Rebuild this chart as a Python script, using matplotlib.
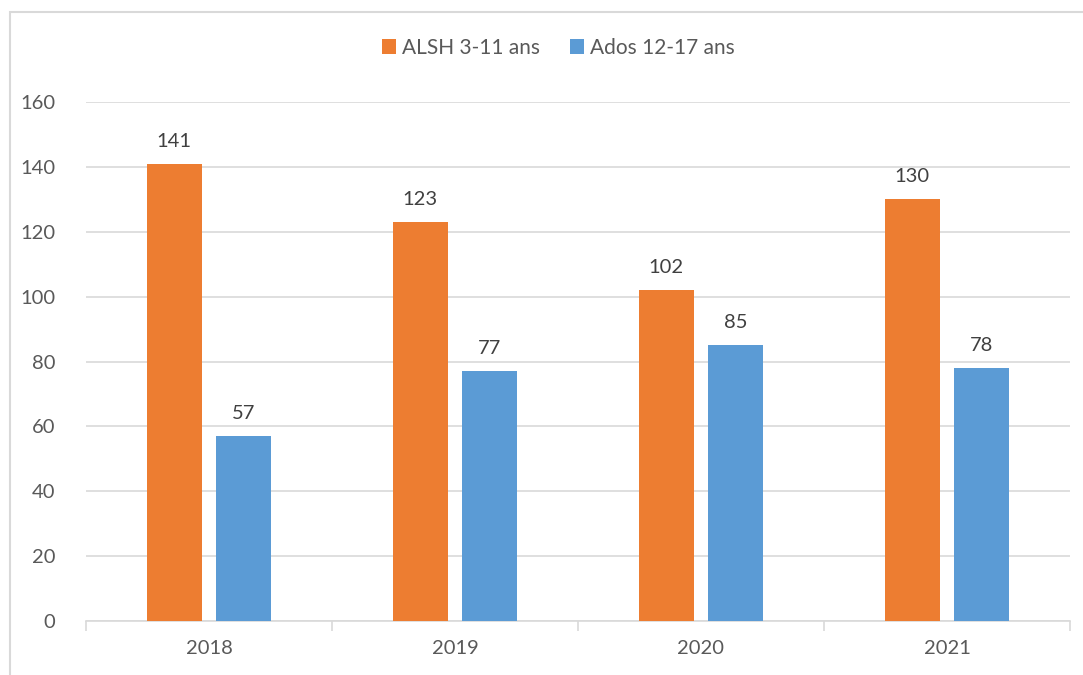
import numpy as np
import matplotlib.pyplot as plt
from matplotlib.patches import Rectangle

# Données
annees = ['2018', '2019', '2020', '2021']
alsh = [141, 123, 102, 130]
ados = [57, 77, 85, 78]
legende = ['ALSH 3-11 ans', 'Ados 12-17 ans']

orange = '#ED7D31'
bleu = '#5B9BD5'
gris_texte = '#595959'
gris_ligne = '#D9D9D9'

plt.rcParams['font.family'] = ['Lato', 'DejaVu Sans']

fig = plt.figure(figsize=(10.83, 6.75), dpi=100)
ax = fig.add_axes([86 / 1083, 1 - 621 / 675, (1070 - 86) / 1083, (621 - 102) / 675])

# Cadre du graphique (coupé à droite et en bas)
cadre = Rectangle((10 / 1083, -0.1), 1.2, 1 - 12 / 675 + 0.1, transform=fig.transFigure,
                  fill=False, edgecolor=gris_ligne, linewidth=1.5, clip_on=False)
fig.patches.append(cadre)

x = np.arange(len(annees))
largeur = 0.224
decal = 0.142

b1 = ax.bar(x - decal, alsh, largeur, color=orange, label=legende[0], zorder=3)
b2 = ax.bar(x + decal, ados, largeur, color=bleu, label=legende[1], zorder=3)

for barres in (b1, b2):
    for b in barres:
        h = b.get_height()
        ax.annotate(str(h), (b.get_x() + b.get_width() / 2, h), xytext=(0, 10),
                    textcoords='offset points', ha='center', va='bottom',
                    fontsize=14.5, color='#404040')

ax.set_xlim(-0.5, len(annees) - 0.5)
ax.set_ylim(0, 160)
ax.set_yticks(np.arange(0, 161, 20))
ax.set_xticks(x)
ax.set_xticklabels(annees)
ax.set_xticks(np.arange(-0.5, len(annees), 1), minor=True)

ax.grid(axis='y', color=gris_ligne, linewidth=1.2, zorder=0)
for s in ['top', 'right', 'left']:
    ax.spines[s].set_visible(False)
ax.spines['bottom'].set_color(gris_ligne)
ax.spines['bottom'].set_linewidth(1.2)

ax.tick_params(axis='y', length=0, pad=22, labelsize=14.5, labelcolor=gris_texte)
ax.tick_params(axis='x', which='major', length=0, pad=14, labelsize=14.5, labelcolor=gris_texte)
ax.tick_params(axis='x', which='minor', length=7, color=gris_ligne, width=1.2)

ax.legend(loc='center', bbox_to_anchor=(0.48, 1.104), ncol=2, frameon=False,
          fontsize=15, labelcolor=gris_texte, handlelength=0.7, handleheight=0.7,
          handletextpad=0.3, columnspacing=1.4)

fig.savefig('out.png', dpi=100)
